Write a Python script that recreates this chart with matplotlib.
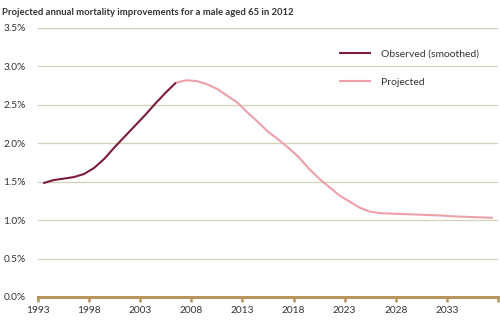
import numpy as np
import matplotlib.pyplot as plt
from matplotlib.ticker import FuncFormatter

# annual mortality improvement (%), male aged 65 in 2012
obs_years = list(range(1993, 2007))
obs_vals = [1.48, 1.52, 1.54, 1.56, 1.60, 1.68, 1.80, 1.95, 2.09, 2.23,
            2.37, 2.52, 2.66, 2.79]

proj_years = list(range(2006, 2038))
proj_vals = [2.79, 2.82, 2.81, 2.77, 2.71, 2.62, 2.53, 2.40, 2.28, 2.15,
             2.05, 1.94, 1.82, 1.67, 1.54, 1.43, 1.32, 1.24, 1.16, 1.11,
             1.09, 1.085, 1.08, 1.075, 1.07, 1.065, 1.06, 1.05, 1.045, 1.04,
             1.035, 1.03]

year_ticks = [1993, 1998, 2003, 2008, 2013, 2018, 2023, 2028, 2033]
y_ticks = [0, 0.5, 1.0, 1.5, 2.0, 2.5, 3.0, 3.5]

plt.rcParams['font.family'] = ['Lato', 'DejaVu Sans']

fig = plt.figure(figsize=(5, 3.21), dpi=100)
ax = fig.add_axes([0.076, 0.0748, 0.92, 0.838])

# values are mid-year, hence the half-year shift
ax.plot(np.array(proj_years) + 0.5, proj_vals, color='#eda0aa', lw=1.5,
        label='Projected', solid_capstyle='butt', solid_joinstyle='round', zorder=3)
ax.plot(np.array(obs_years) + 0.5, obs_vals, color='#7b1c3f', lw=1.5,
        label='Observed (smoothed)', solid_capstyle='butt', solid_joinstyle='round', zorder=4)

ax.set_xlim(1993, 2038)
ax.set_ylim(0, 3.5)
ax.set_yticks(y_ticks)
ax.yaxis.set_major_formatter(FuncFormatter(lambda v, p: f'{v:.1f}%'))
ax.set_xticks(year_ticks + [2038])
ax.set_xticklabels([str(y) for y in year_ticks] + [''])

for v in y_ticks[1:]:
    ax.axhline(v, color='#d6d1b6', lw=0.9, zorder=1)

for s in ['top', 'right', 'left']:
    ax.spines[s].set_visible(False)
ax.spines['bottom'].set_color('#b8955c')
ax.spines['bottom'].set_linewidth(2.2)
ax.tick_params(axis='y', length=0, labelsize=7.3, pad=9, colors='#333333')
ax.tick_params(axis='x', length=3.5, width=1.8, color='#b8955c', labelsize=7.3,
               pad=3, labelcolor='#333333')

handles, labels = ax.get_legend_handles_labels()
leg = ax.legend(handles[::-1], labels[::-1], loc='upper left',
                bbox_to_anchor=(0.635, 0.957), frameon=False, fontsize=7.5,
                handlelength=3.0, handletextpad=1.0, labelspacing=1.88,
                labelcolor='#333333')

fig.text(0.004, 0.975, 'Projected annual mortality improvements for a male aged 65 in 2012',
         fontsize=6.8, fontweight='bold', color='#333333', va='top', ha='left')

fig.savefig('out.png', dpi=100)
